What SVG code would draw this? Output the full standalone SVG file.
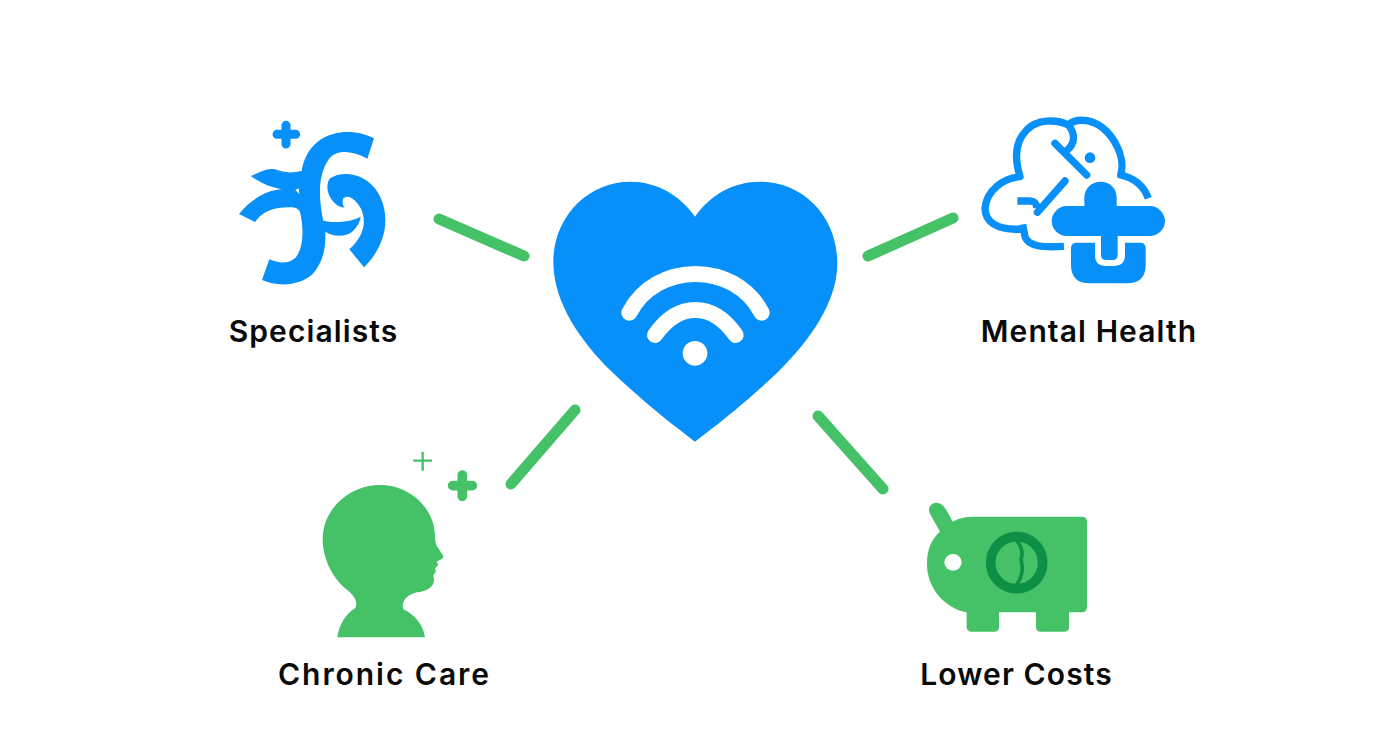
<svg xmlns="http://www.w3.org/2000/svg" width="1392" height="752" viewBox="0 0 1392 752">
<style>
.b{fill:#078ffa}.g{fill:#45c168}
.bs{fill:none;stroke:#078ffa;stroke-linecap:round;stroke-linejoin:round}
.c{fill:none;stroke:#45c168;stroke-width:11;stroke-linecap:round}
.w{fill:none;stroke:#fff;stroke-width:48;stroke-linecap:round}
.t{font-family:"Inter","Liberation Sans",sans-serif;font-weight:600;font-size:30px;fill:#0a0a0a;text-anchor:middle;letter-spacing:1.1px}
</style>
<rect width="1392" height="752" fill="#fff"/>
<g id="connectors">
<line class="c" x1="439" y1="219" x2="524" y2="256"/>
<line class="c" x1="868" y1="256" x2="953" y2="218"/>
<line class="c" x1="575" y1="410" x2="511" y2="484"/>
<line class="c" x1="818" y1="416" x2="883" y2="489"/>
</g>
<g id="center-heart">
<g transform="translate(540 170) scale(.33333)">
<path class="b" d="M465 815C400 765 320 705 210 600C125 515 40 400 40 275C40 140 145 35 270 35C350 35 420 75 465 140C510 75 580 35 660 35C790 35 892 140 892 280C892 400 805 515 720 600C610 705 530 765 465 815Z"/>
<path class="w" d="M268 428C350 273 583 273 665 428"/>
<path class="w" d="M345 495C415 395 517 395 587 495"/>
<circle cx="465" cy="550" r="37" fill="#fff"/>
</g>
</g>
<g id="specialists">
<g transform="translate(220 110) scale(.33333)">
<path class="bs" stroke-width="27" d="M171 73H227M198 46V102"/>
<path class="b" d="M462 85C420 62 350 55 300 90C265 115 250 150 245 183C215 190 190 188 165 178C140 172 115 190 92 198C120 218 150 232 185 238C140 240 90 270 57 312L105 336C130 300 170 290 215 292C235 294 240 300 243 320C252 370 248 420 225 445C205 462 175 460 148 448L126 510C170 530 240 530 280 490C310 455 318 410 316 365C340 382 380 382 400 362C412 350 420 335 422 320C395 335 345 340 310 332C298 280 290 200 325 150C345 118 395 120 442 146Z"/>
<path class="b" d="M330 205C370 180 440 190 475 250C510 310 505 400 432 472L388 418C430 380 440 340 425 300C410 270 385 250 370 265C365 280 370 290 375 292C350 295 325 265 322 235C322 220 325 212 330 205Z"/>
<path d="M226 240L236 235L238 252Z" fill="#fff"/>
</g>
<text class="t" x="313.500" y="342">Specialists</text>
</g>
<g id="mental-health">
<g transform="translate(970 105) scale(.33333)">
<path class="bs" stroke-width="22" style="stroke-linecap:butt" d="M535 280C520 240 490 218 452 210C470 150 420 60 350 47C325 43 305 50 295 60C260 42 200 42 170 75C140 105 130 150 150 215C100 220 50 255 45 310C45 350 80 378 160 372"/>
<path class="bs" stroke-width="22" style="stroke-linecap:butt" d="M158 358L165 395C175 425 220 428 282 424"/>
<path class="bs" stroke-width="22" d="M295 60C320 90 312 118 292 135"/>
<path class="bs" stroke-width="22" d="M255 115L350 210M285 228L202 322"/>
<path class="bs" stroke-width="22" style="stroke-linecap:butt" d="M142 288H180C195 289 200 295 200 310"/>
<circle class="b" cx="360" cy="158" r="16"/>
<path class="b" d="M303 430Q303 413 320 413H375V450Q375 483 408 483H430Q465 483 465 450V413H510Q527 413 527 430V480Q527 535 470 535H360Q303 535 303 480Z"/>
<path class="b" d="M343 303V278C343 250 365 230 392 230C420 230 440 250 440 278V303H540C565 303 585 325 585 348C585 372 565 393 540 393H443V450Q443 465 428 465H408Q393 465 393 450V393H290C265 393 245 372 245 348C245 325 265 303 290 303Z"/>
</g>
<text class="t" x="1089" y="342">Mental Health</text>
</g>
<g id="chronic-care">
<g transform="translate(310 440) scale(.33333)">
<path class="g" d="M82 592C88 550 108 522 135 505C145 490 135 470 118 455C70 420 38 360 38 295C40 205 120 135 210 135C300 135 375 205 375 290C375 305 378 315 385 325L400 348C400 358 385 362 380 365L385 375L375 385L378 395L370 405L372 420C372 440 350 455 320 457C290 465 272 485 280 508C315 525 340 555 345 592Z"/>
<path d="M310 62H366M338 35V92" fill="none" stroke="#45c168" stroke-width="7"/>
<path d="M428 137H487M457 105V169" fill="none" stroke="#45c168" stroke-width="29" stroke-linecap="round"/>
</g>
<text class="t" x="384.500" y="685" style="letter-spacing:1.95px">Chronic Care</text>
</g>
<g id="lower-costs">
<g transform="translate(915 495) scale(.33333)">
<path class="g" d="M113 80C130 70 150 65 175 65H500Q516 65 516 80V335Q516 352 500 352H462V395Q462 410 447 410H378Q363 410 363 395V352H252V395Q252 410 237 410H170Q155 410 155 395V352C90 340 35 280 36 205C36 165 50 130 75 110L47 60C30 35 60 8 85 33C98 48 105 65 113 80Z"/>
<ellipse cx="114" cy="202" rx="26" ry="25" fill="#fff"/>
<circle cx="305" cy="203" r="78" fill="none" stroke="#0d8f45" stroke-width="29"/>
<path d="M305 135C322 158 325 175 318 192L322 218C322 245 310 265 296 282" fill="none" stroke="#0d8f45" stroke-width="11"/>
</g>
<text class="t" x="1016.500" y="685">Lower Costs</text>
</g>
</svg>
